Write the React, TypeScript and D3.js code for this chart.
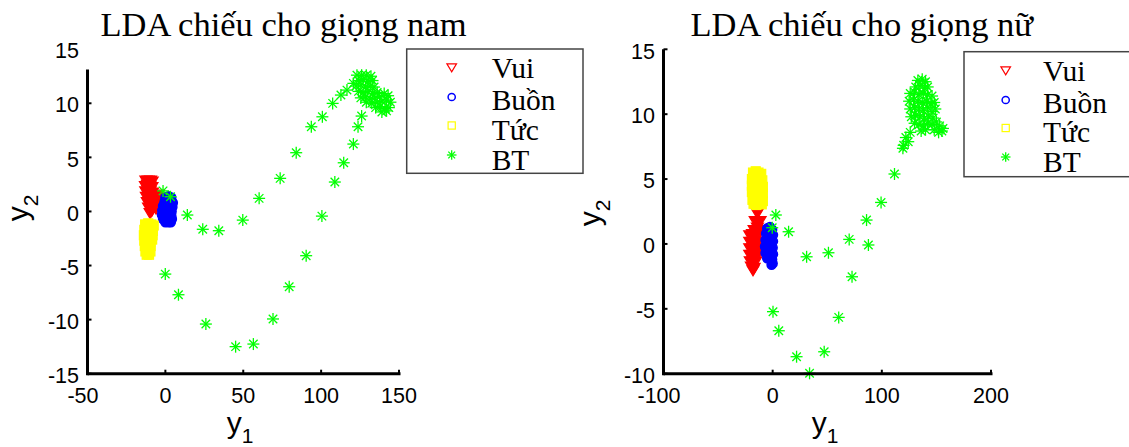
import React from 'react';
import * as d3 from 'd3';

type Pt = [number, number];

const legendLabels = ['Vui', 'Buồn', 'Tức', 'BT'];
const seriesColors = ['#ff0000', '#0000ff', '#ffff00', '#00ff00'];
const maleTitle = 'LDA chiếu cho giọng nam';
const femaleTitle = 'LDA chiếu cho giọng nữ';
const maleXTicks = [-50, 0, 50, 100, 150];
const maleYTicks = [-15, -10, -5, 0, 5, 10, 15];
const femaleXTicks = [-100, 0, 100, 200];
const femaleYTicks = [-10, -5, 0, 5, 10, 15];

// ---- male (giọng nam) ----
const maleVui: Pt[] = [
  [-12.5, 2.9], [-11, 2.9], [-9.5, 2.9], [-8.5, 2.8], [-12.8, 2.4], [-11.5, 2.5], [-10, 2.4], [-8.6, 2.3],
  [-12.6, 1.9], [-11.2, 2.0], [-9.8, 1.9], [-8.3, 1.8], [-12.2, 1.4], [-10.8, 1.5], [-9.4, 1.4], [-7.8, 1.3],
  [-11.6, 0.9], [-10.2, 1.0], [-8.8, 0.9], [-7.2, 1.0], [-10.8, 0.4], [-9.5, 0.5], [-8.0, 0.5], [-6.5, 0.7],
  [-9.8, -0.1], [-8.7, 0.1], [-5.5, 1.2], [-4.5, 1.6], [-6, 0.3],
];
const maleBuon: Pt[] = [
  [0, 1.3], [2, 1.4], [3.8, 1.3], [-0.5, 0.9], [1.5, 0.9], [3.5, 0.9], [4.8, 0.8], [-1.5, 0.5], [0.5, 0.5],
  [2.5, 0.5], [4.5, 0.4], [-2, 0.1], [0, 0.1], [2, 0.1], [4, 0], [-2.2, -0.3], [-0.3, -0.3], [1.8, -0.4],
  [3.8, -0.4], [-1.5, -0.7], [0.5, -0.7], [2.5, -0.8], [4.2, -0.7], [0, -1.0], [2, -1.0], [3.5, -1.0],
];
const maleTuc: Pt[] = [
  [-13, -1.2], [-11, -1.1], [-9, -1.2], [-7.5, -1.3], [-13.5, -1.7], [-11.5, -1.7], [-9.5, -1.6], [-8, -1.8],
  [-13.8, -2.2], [-12, -2.2], [-10, -2.3], [-8.2, -2.2], [-13.5, -2.7], [-11.5, -2.7], [-9.5, -2.8], [-8.5, -2.6],
  [-13.2, -3.2], [-11.2, -3.3], [-9.5, -3.2], [-12.8, -3.7], [-11, -3.8], [-9.6, -3.7], [-12, -4.0], [-10.5, -4.0],
];
const maleBT: Pt[] = [
  [-1.5, 1.9], [3.3, 1.36], [14.1, -0.33], [24.0, -1.65], [34.3, -1.78], [49.7, -0.8], [60.2, 1.21], [73.7, 3.06],
  [84.0, 5.43], [93.7, 7.83], [100.8, 8.75], [107.4, 9.99], [112.7, 10.76], [116.6, 11.22], [120.7, 11.84],
  [-0.06, -5.79], [8.4, -7.7], [26.0, -10.41], [45.1, -12.5], [56.5, -12.26], [69.1, -9.94], [79.5, -6.96],
  [90.4, -4.09], [100.5, -0.43], [108.8, 2.72], [114.5, 4.5], [120.7, 6.23], [123.7, 7.83], [126.0, 8.82],
  [123, 12.6], [126, 12.6], [129, 12.6], [132, 12.5], [124, 12.1], [127, 12.2], [130, 12.0], [133, 12.1],
  [122.5, 11.6], [125.5, 11.7], [128.5, 11.5], [131.5, 11.6], [134, 11.5], [124, 11.1], [127, 11.0], [130, 11.1],
  [133, 10.9], [136, 11.0], [125.5, 10.5], [128.5, 10.6], [131.5, 10.4], [134.5, 10.5], [137.5, 10.6], [140.5, 10.9],
  [143, 10.7], [129, 10.1], [132.5, 10.0], [136, 10.1], [139, 10.2], [142, 10.3], [144.5, 10.1], [135, 9.6],
  [138, 9.7], [141, 9.5], [143.5, 9.6], [139, 9.2], [142, 9.3],
];

// ---- female (giọng nữ) ----
const femaleVui: Pt[] = [
  [-21, 0.7], [-18.5, 0.8], [-16, 0.7], [-14, 0.8], [-21, 0.2], [-18.5, 0.2], [-16, 0.3], [-13.5, 0.2],
  [-21, -0.3], [-18.5, -0.3], [-16, -0.3], [-14, -0.4], [-21, -0.8], [-18.5, -0.8], [-16, -0.9], [-14, -0.8],
  [-20.5, -1.3], [-18, -1.3], [-15.5, -1.3], [-19.5, -1.7], [-17, -1.8], [-18, -2.0],
  [-14, 2.4], [-16, 1.8], [-11.5, 1.8], [-14, 1.3], [-17, 1.1], [-11, 1.1],
];
const femaleBuon: Pt[] = [
  [-5, 1.2], [-2.5, 1.3], [-0.5, 1.1], [-6, 0.8], [-3.5, 0.8], [-1, 0.8], [0.3, 0.7], [-6.5, 0.3], [-4, 0.3],
  [-1.5, 0.3], [0.3, 0.2], [-7, -0.2], [-4.5, -0.2], [-2, -0.2], [0, -0.3], [-6.5, -0.7], [-4, -0.7], [-1.5, -0.7],
  [0.3, -0.8], [-5, -1.1], [-2.5, -1.1], [-0.5, -1.2], [-1, -1.6], [0, -1.5],
];
const femaleTuc: Pt[] = [
  [-18, 5.5], [-15.5, 5.6], [-13, 5.5], [-10.5, 5.4], [-19, 5.0], [-16.5, 5.0], [-14, 5.1], [-11.5, 5.0], [-9.5, 4.9],
  [-19, 4.5], [-16.5, 4.5], [-14, 4.4], [-11.5, 4.5], [-9, 4.4], [-19, 4.0], [-16.5, 3.9], [-14, 4.0], [-11.5, 3.9],
  [-9, 3.9], [-18.5, 3.4], [-16, 3.4], [-13.5, 3.5], [-11, 3.4], [-9, 3.3], [-17.5, 3.1], [-15, 3.0], [-12.5, 3.1], [-10, 3.05],
];
const femaleBT: Pt[] = [
  [2.9, 2.23], [-0.4, 1.25], [14.6, 0.94], [31.1, -0.99], [51.1, -0.68], [70.1, 0.35], [86.0, 1.84], [87.7, -0.08],
  [99.3, 3.2], [111.6, 5.39], [72.7, -2.53], [60.5, -5.66], [47.2, -8.31], [33.8, -9.97], [21.9, -8.69], [5.6, -6.69],
  [0.3, -5.22], [119.3, 7.37], [124.2, 7.88], [122, 8.2], [126, 8.6], [120, 7.6],
  [133, 12.6], [137, 12.7], [140, 12.5], [131, 12.1], [135, 12.2], [139, 12.0], [142, 12.1],
  [126, 11.6], [130, 11.7], [134, 11.5], [138, 11.6], [142, 11.5], [146, 11.4], [125, 11.0], [129, 11.1], [133, 11.0],
  [137, 10.9], [141, 11.0], [145, 10.8], [148, 10.9], [126, 10.4], [130, 10.5], [134, 10.4], [138, 10.3], [142, 10.5],
  [146, 10.2], [149, 10.4], [127, 9.8], [131, 9.9], [135, 9.8], [139, 9.7], [143, 9.8], [147, 9.7], [130, 9.3],
  [134, 9.2], [138, 9.1], [142, 9.3], [146, 9.2], [150, 9.4], [153, 9.1], [156, 8.9], [136, 8.7], [140, 8.8],
  [148, 8.8], [152, 8.6], [155, 8.7],
];

type Kind = 'tri' | 'circle' | 'square' | 'star';
const kinds: Kind[] = ['tri', 'circle', 'square', 'star'];

function Marker({ kind, x, y, color, filled, s = 1 }: { kind: Kind; x: number; y: number; color: string; filled: boolean; s?: number }) {
  const fill = filled ? color : 'none';
  if (kind === 'tri') {
    const w = 12 * s, h = 10 * s;
    const d = `M${x - w / 2},${y - h * 0.4}L${x + w / 2},${y - h * 0.4}L${x},${y + h * 0.6}Z`;
    return <path d={d} fill={fill} stroke={color} strokeWidth={1.2} />;
  }
  if (kind === 'circle') {
    return <circle cx={x} cy={y} r={4.5 * s} fill={fill} stroke={color} strokeWidth={1.5} />;
  }
  if (kind === 'square') {
    const w = 9 * s, h = 9 * s;
    return <rect x={x - w / 2} y={y - h / 2} width={w} height={h} fill={fill} stroke={color} strokeWidth={1.2} />;
  }
  const r = 6 * s, q = r * 0.7071;
  return (
    <g stroke={color} strokeWidth={1.3}>
      <line x1={x - r} y1={y} x2={x + r} y2={y} />
      <line x1={x} y1={y - r} x2={x} y2={y + r} />
      <line x1={x - q} y1={y - q} x2={x + q} y2={y + q} />
      <line x1={x - q} y1={y + q} x2={x + q} y2={y - q} />
    </g>
  );
}

interface PanelCfg {
  title: string;
  titleX: number;
  xDomain: [number, number];
  xRange: [number, number];
  yDomain: [number, number];
  yRange: [number, number];
  axisTop: number;
  xTicks: number[];
  yTicks: number[];
  series: Pt[][];
  legend: { x0: number; y0: number; x1: number; y1: number; mx: number; tx: number; my: number[]; by: number[] };
  xLabelX: number;
  yLabel: [number, number];
}

function Panel({ cfg }: { cfg: PanelCfg }) {
  const xs = d3.scaleLinear().domain(cfg.xDomain).range(cfg.xRange);
  const ys = d3.scaleLinear().domain(cfg.yDomain).range(cfg.yRange);
  const x0 = xs(cfg.xDomain[0]);
  const x1 = xs(cfg.xDomain[1]);
  const yb = ys(cfg.yDomain[0]);
  const yt = ys(cfg.axisTop);
  const tickFont = { fontFamily: '"Liberation Sans", Arial, sans-serif', fontSize: 21.5 };
  const L = cfg.legend;
  return (
    <g>
      <text x={cfg.titleX} y={36} textAnchor="middle" style={{ fontFamily: '"Liberation Serif", "Times New Roman", serif', fontSize: 34.5 }}>
        {cfg.title}
      </text>
      {cfg.series.map((pts, si) => (
        <g key={si}>
          {pts.map((p, i) => (
            <Marker key={i} kind={kinds[si]} x={xs(p[0])} y={ys(p[1])} color={seriesColors[si]} filled={true} />
          ))}
        </g>
      ))}
      <line x1={x0} y1={yb} x2={x1 + 1.5} y2={yb} stroke="#000" strokeWidth={3} />
      <line x1={x0} y1={yt} x2={x0} y2={yb + 1.5} stroke="#000" strokeWidth={3} />
      {cfg.xTicks.map((t) => (
        <g key={'x' + t}>
          <line x1={xs(t)} y1={yb} x2={xs(t)} y2={yb - 4} stroke="#000" strokeWidth={2} />
          <text x={xs(t) + (t < 0 ? -4.5 : 0)} y={yb + 29} textAnchor="middle" style={tickFont}>{String(t)}</text>
        </g>
      ))}
      {cfg.yTicks.map((t) => (
        <g key={'y' + t}>
          {t <= cfg.axisTop ? <line x1={x0} y1={ys(t)} x2={x0 + 4} y2={ys(t)} stroke="#000" strokeWidth={2} /> : null}
          <text x={x0 - 8.5} y={ys(t) + 9.2} textAnchor="end" style={tickFont}>{String(t)}</text>
        </g>
      ))}
      <text x={cfg.xLabelX} y={433} textAnchor="middle" style={{ fontFamily: '"Liberation Sans", Arial, sans-serif', fontSize: 30 }}>
        y<tspan dy={10} style={{ fontSize: 21 }}>1</tspan>
      </text>
      <text transform={`translate(${cfg.yLabel[0]},${cfg.yLabel[1]}) rotate(-90)`} textAnchor="middle" style={{ fontFamily: '"Liberation Sans", Arial, sans-serif', fontSize: 30 }}>
        y<tspan dy={10} style={{ fontSize: 21 }}>2</tspan>
      </text>
      <rect x={L.x0} y={L.y0} width={L.x1 - L.x0} height={L.y1 - L.y0} fill="#fff" stroke="#444" strokeWidth={1.5} />
      {legendLabels.map((lab, i) => (
        <g key={lab}>
          <Marker kind={kinds[i]} x={L.mx} y={L.my[i]} color={seriesColors[i]} filled={false} s={0.8} />
          <text x={L.tx} y={L.by[i]} style={{ fontFamily: '"Liberation Serif", "Times New Roman", serif', fontSize: 29.5 }}>{lab}</text>
        </g>
      ))}
    </g>
  );
}

const maleCfg: PanelCfg = {
  title: maleTitle,
  titleX: 283.5,
  xDomain: [-50, 150],
  xRange: [87.5, 399],
  yDomain: [-15, 15],
  yRange: [373.7, 49.2],
  axisTop: 13.13,
  xTicks: maleXTicks,
  yTicks: maleYTicks,
  series: [maleVui, maleBuon, maleTuc, maleBT],
  legend: { x0: 406.7, y0: 49, x1: 583, y1: 173.3, mx: 451.7, tx: 491.7, my: [67, 97, 125.5, 155], by: [78, 110, 140, 169.5] },
  xLabelX: 240,
  yLabel: [28, 208],
};

const femaleCfg: PanelCfg = {
  title: femaleTitle,
  titleX: 861.7,
  xDomain: [-100, 200],
  xRange: [663.5, 991],
  yDomain: [-10, 15],
  yRange: [373.7, 49.3],
  axisTop: 15,
  xTicks: femaleXTicks,
  yTicks: femaleYTicks,
  series: [femaleVui, femaleBuon, femaleTuc, femaleBT],
  legend: { x0: 964, y0: 51.7, x1: 1140, y1: 176.7, mx: 1005.7, tx: 1043, my: [70, 100, 128, 157], by: [81, 113, 142, 172] },
  xLabelX: 825,
  yLabel: [600, 213],
};

export default function App() {
  return (
    <svg width={1129} height={447} style={{ position: 'absolute', left: 0, top: 0, background: '#fff' }}>
      <rect x={0} y={0} width={1129} height={447} fill="#fff" />
      <Panel cfg={maleCfg} />
      <Panel cfg={femaleCfg} />
    </svg>
  );
}
